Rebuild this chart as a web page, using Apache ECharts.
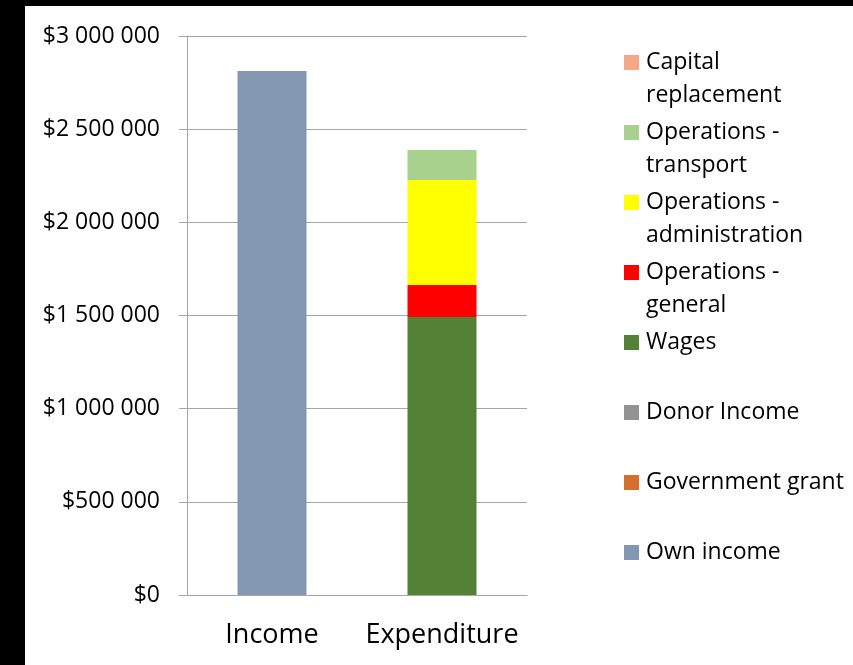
<!DOCTYPE html>
<html>
<head>
<meta charset="utf-8">
<script src="https://cdn.jsdelivr.net/npm/echarts@6/dist/echarts.min.js"></script>
<style>
  html, body { margin: 0; padding: 0; background: #000; }
  #chart { position: absolute; left: 25px; top: 6px; width: 828px; height: 659px; background: #fff; }
</style>
</head>
<body>
<div id="chart"></div>
<script>
const categories = ['Income', 'Expenditure'];

// stacked bottom to top
const ownIncome = [2812000, 0];
const governmentGrant = [0, 0];
const donorIncome = [0, 0];
const wages = [0, 1492000];
const opsGeneral = [0, 172000];
const opsAdministration = [0, 563000];
const opsTransport = [0, 161000];
const capitalReplacement = [0, 0];

const seriesList = [
  { name: 'Own income', data: ownIncome, color: '#8497b0' },
  { name: 'Government grant', data: governmentGrant, color: '#d5702c' },
  { name: 'Donor Income', data: donorIncome, color: '#939393' },
  { name: 'Wages', data: wages, color: '#538135' },
  { name: 'Operations - general', data: opsGeneral, color: '#ff0000' },
  { name: 'Operations - administration', data: opsAdministration, color: '#ffff00' },
  { name: 'Operations - transport', data: opsTransport, color: '#a9d18e' },
  { name: 'Capital replacement', data: capitalReplacement, color: '#f4a886' }
];

// how each legend entry wraps
const legendLabels = {
  'Capital replacement': 'Capital\nreplacement',
  'Operations - transport': 'Operations -\ntransport',
  'Operations - administration': 'Operations -\nadministration',
  'Operations - general': 'Operations -\ngeneral'
};

const fontFamily = '"Open Sans", sans-serif';

const formatMoney = v => '$' + String(v).replace(/\B(?=(\d{3})+(?!\d))/g, ' ');

const chart = echarts.init(document.getElementById('chart'));

chart.setOption({
  animation: false,
  textStyle: { fontFamily: fontFamily },
  grid: { left: 162, right: 326, top: 30, bottom: 70 },
  legend: {
    orient: 'vertical',
    left: 599,
    top: 7,
    padding: 0,
    itemWidth: 15,
    itemHeight: 15,
    itemGap: -29,
    icon: 'rect',
    data: seriesList.map(s => s.name).reverse(),
    formatter: name => legendLabels[name] ? '\n' + legendLabels[name] : '\n' + name + '\n',
    textStyle: { fontSize: 23, lineHeight: 33, color: '#000', fontFamily: fontFamily, padding: [0, 0, 0, 2] }
  },
  xAxis: {
    type: 'category',
    data: categories,
    axisLine: { lineStyle: { color: '#a6a6a6', width: 1 } },
    axisTick: { length: 10, lineStyle: { color: '#a6a6a6' } },
    axisLabel: { fontSize: 27, color: '#000', margin: 27, interval: 0, hideOverlap: false }
  },
  yAxis: {
    type: 'value',
    min: 0,
    max: 3000000,
    interval: 500000,
    axisLine: { show: true, lineStyle: { color: '#a6a6a6', width: 1 } },
    axisTick: { show: true, inside: false, length: 8, lineStyle: { color: '#a6a6a6' } },
    splitLine: { lineStyle: { color: '#a6a6a6', width: 1 } },
    axisLabel: { fontSize: 23, color: '#000', margin: 27, formatter: formatMoney }
  },
  series: seriesList.map(s => ({
    name: s.name,
    type: 'bar',
    stack: 'total',
    barWidth: 69,
    data: s.data,
    itemStyle: { color: s.color }
  }))
});
</script>
</body>
</html>
